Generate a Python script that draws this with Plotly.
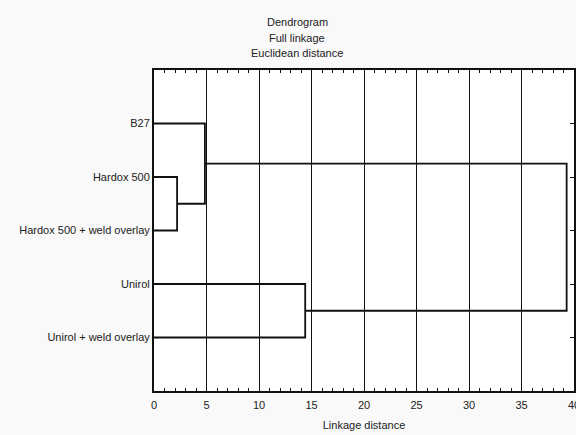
import plotly.graph_objects as go

# Leaves (top to bottom)
labels = ["B27", "Hardox 500", "Hardox 500 + weld overlay", "Unirol", "Unirol + weld overlay"]
# Linkage steps: (cluster a, cluster b, linkage distance); leaves 0..4, new clusters 5,6,...
merge_a = [1, 0, 3, 6]
merge_b = [2, 5, 4, 7]
merge_dist = [2.2, 4.85, 14.4, 39.3]

x_ticks = [0, 5, 10, 15, 20, 25, 30, 35, 40]
title_lines = ["Dendrogram", "Full linkage", "Euclidean distance"]

# Build dendrogram segments from the linkage data
pos = {i: (0.0, float(i + 1)) for i in range(len(labels))}  # (height, y position)
xs, ys = [], []
for k, (a, b, d) in enumerate(zip(merge_a, merge_b, merge_dist)):
    ha, ya = pos[a]
    hb, yb = pos[b]
    xs += [ha, d, d, hb, None]
    ys += [ya, ya, yb, yb, None]
    pos[len(labels) + k] = (d, (ya + yb) / 2)

fig = go.Figure()
fig.add_trace(go.Scatter(x=xs, y=ys, mode="lines",
                         line=dict(color="#111111", width=1.8),
                         hoverinfo="skip", showlegend=False))

font = dict(family="Liberation Sans, Arial, sans-serif", size=11, color="#222222")

W, H = 576, 435
L, R, T, B = 154, 2, 70, 44
plot_h = H - T - B
title_y_px = [22, 37.5, 53]
for txt, ypx in zip(title_lines, title_y_px):
    fig.add_annotation(text=txt, xref="paper", yref="paper",
                       x=(297 - L) / (W - L - R), y=(H - B - ypx) / plot_h,
                       xanchor="center", yanchor="middle", showarrow=False, font=font)

fig.update_layout(
    width=W, height=H,
    margin=dict(l=L, r=R, t=T, b=B, autoexpand=False),
    paper_bgcolor="#f9f9f9",
    plot_bgcolor="#ffffff",
    font=font,
    xaxis=dict(range=[0, 40], tickvals=x_ticks, ticks="inside", ticklen=4,
               tickcolor="#111111", showline=True, linecolor="#111111", linewidth=2,
               mirror="ticks", showgrid=True, gridcolor="#111111", gridwidth=1,
               zeroline=False, automargin=False, ticklabeloverflow="allow",
               ticklabelstandoff=3,
               minor=dict(dtick=1, ticks="inside", ticklen=3, tickcolor="#111111", showgrid=False),
               title=dict(text="Linkage distance", font=font, standoff=11),
               tickfont=font),
    yaxis=dict(range=[6, 0], tickvals=[1, 2, 3, 4, 5], ticktext=labels,
               ticks="inside", ticklen=4, tickcolor="#111111",
               showline=True, linecolor="#111111", linewidth=2, mirror="ticks",
               showgrid=False, zeroline=False, automargin=False, tickfont=font),
)

fig.write_html("out.html", config={"displayModeBar": False},
               post_script="document.body.style.margin='0';document.body.style.overflow='hidden';")
